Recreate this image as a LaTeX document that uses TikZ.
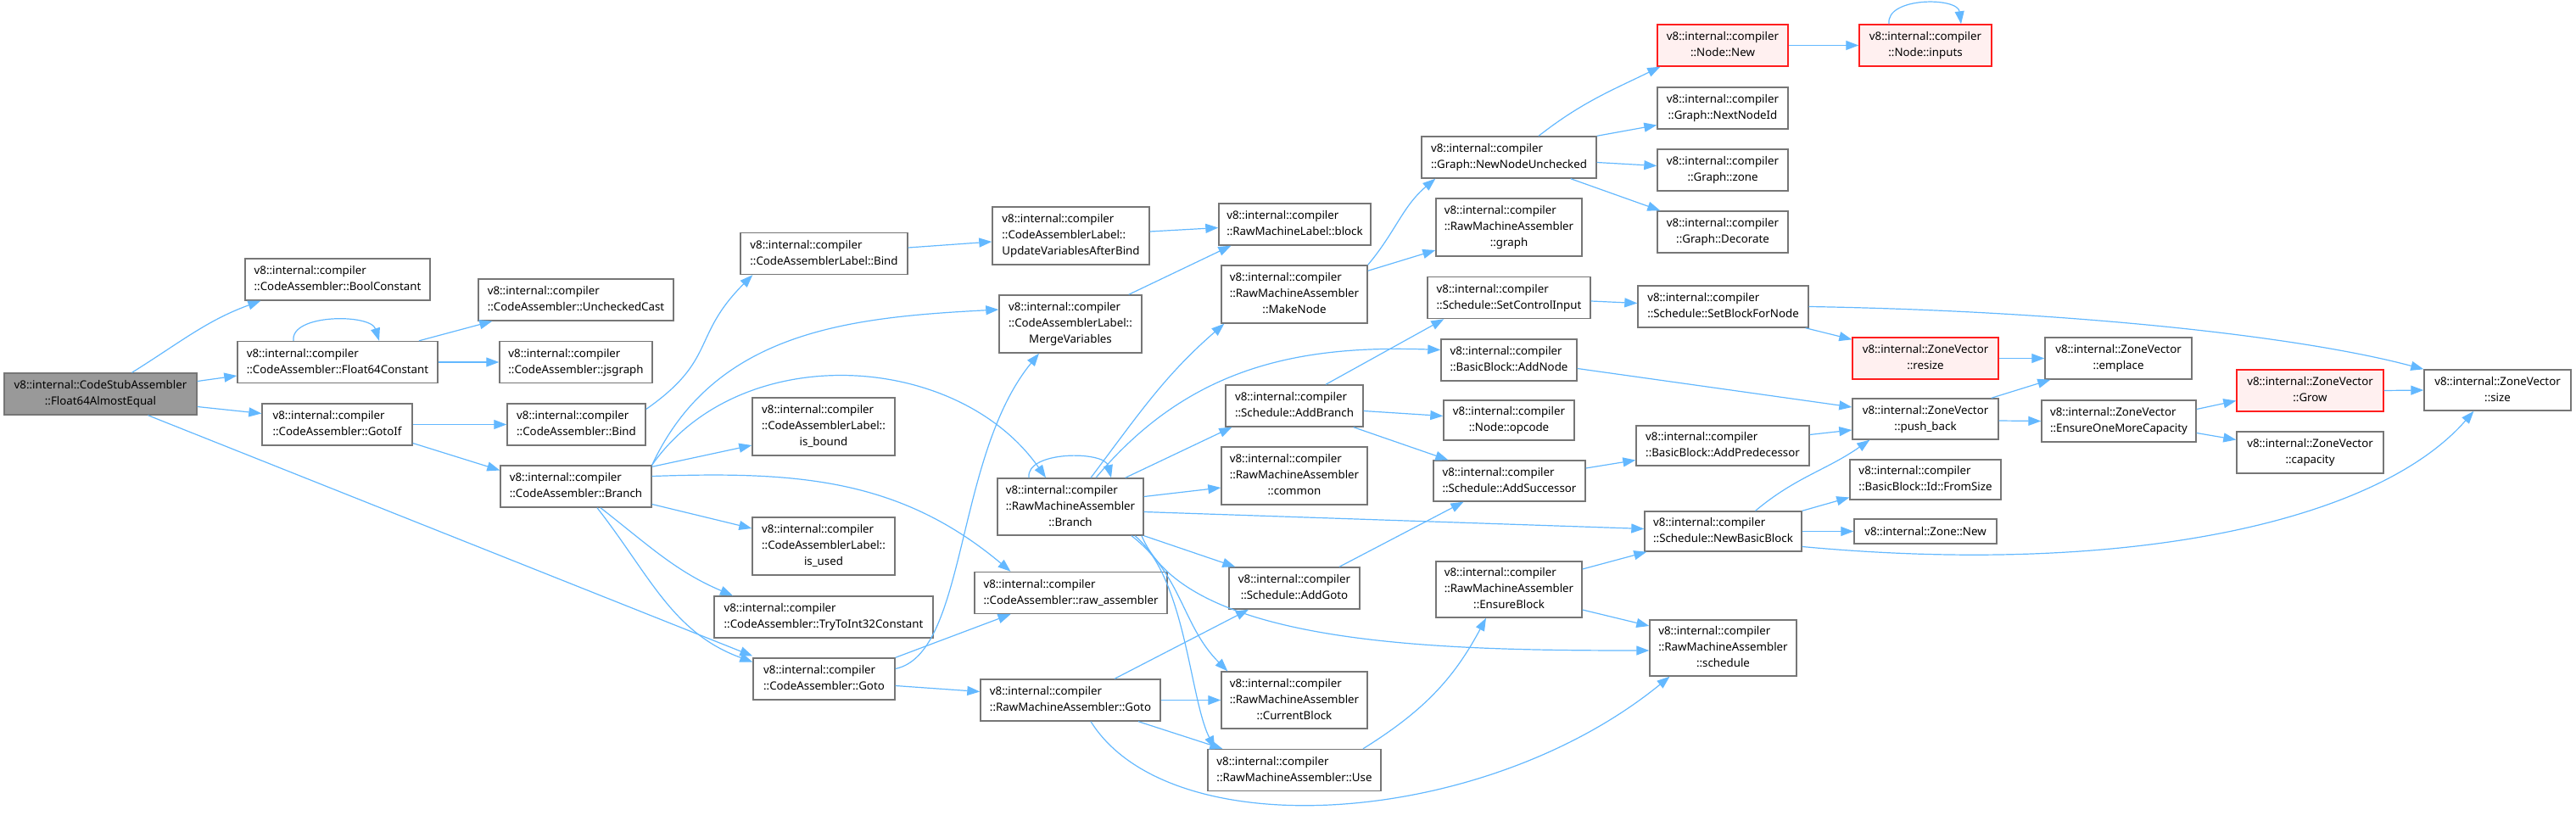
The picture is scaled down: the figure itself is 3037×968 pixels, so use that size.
\documentclass[tikz,border=0pt]{standalone}
\usepackage{fontspec}
\setmainfont{Noto Sans}
\usepackage{xcolor}
\usetikzlibrary{arrows.meta}
\definecolor{edgeblue}{RGB}{99,184,255}
\definecolor{boxgray}{RGB}{118,118,118}
\definecolor{rootgray}{RGB}{153,153,153}
\definecolor{cutred}{RGB}{255,30,30}
\definecolor{cutfill}{RGB}{255,240,240}
\newcommand{\fnfont}{\fontsize{13.3}{19}\selectfont}
\newcommand{\fnlabel}[2]{\begin{tabular}{@{}l@{}}#1\\\multicolumn{1}{@{}c@{}}{#2}\end{tabular}}
\tikzset{
  callbox/.style={rectangle, draw=boxgray, fill=white, line width=1.4pt, inner sep=0pt, minimum height=49pt, font=\fnfont},
  tallbox/.style={callbox, minimum height=68pt},
  rootbox/.style={callbox, fill=rootgray},
  cutbox/.style={callbox, draw=cutred, fill=cutfill},
  call/.style={->, draw=edgeblue, line width=1.2pt},
}

\begin{document}
\begin{tikzpicture}[x=1pt, y=1pt, >={Triangle[length=15pt,width=11pt]}]
\useasboundingbox (0,0) rectangle (3037,-968);
% Column 1-2
\node[rootbox, minimum width=227pt] (root) at (118.5,-464.5) {\fnlabel{v8::internal::CodeStubAssembler}{::Float64AlmostEqual}};
\node[callbox, minimum width=218pt] (boolc) at (398,-329.5) {\fnlabel{v8::internal::compiler}{::CodeAssembler::BoolConstant}};
\node[callbox, minimum width=236pt] (f64c) at (398,-427) {\fnlabel{v8::internal::compiler}{::CodeAssembler::Float64Constant}};
\node[callbox, minimum width=177pt] (gotoif) at (397.5,-500.5) {\fnlabel{v8::internal::compiler}{::CodeAssembler::GotoIf}};
% Column 3
\node[callbox, minimum width=230pt] (unchk) at (679,-353.5) {\fnlabel{v8::internal::compiler}{::CodeAssembler::UncheckedCast}};
\node[callbox, minimum width=180pt] (jsg) at (679,-427) {\fnlabel{v8::internal::compiler}{::CodeAssembler::jsgraph}};
\node[callbox, minimum width=163pt] (cabind) at (679.5,-500.5) {\fnlabel{v8::internal::compiler}{::CodeAssembler::Bind}};
\node[callbox, minimum width=178pt] (cabr) at (679,-573.5) {\fnlabel{v8::internal::compiler}{::CodeAssembler::Branch}};
% Column 4
\node[callbox, minimum width=197pt] (calbind) at (971.5,-299) {\fnlabel{v8::internal::compiler}{::CodeAssemblerLabel::Bind}};
\node[tallbox, minimum width=168pt] (isbound) at (971,-503) {\fnlabel{v8::internal::compiler\\::CodeAssemblerLabel::}{is\_bound}};
\node[tallbox, minimum width=168pt] (isused) at (971,-644) {\fnlabel{v8::internal::compiler\\::CodeAssemblerLabel::}{is\_used}};
\node[callbox, minimum width=258pt] (tryint) at (971,-727.5) {\fnlabel{v8::internal::compiler}{::CodeAssembler::TryToInt32Constant}};
\node[callbox, minimum width=167pt] (cagoto) at (971.5,-800.5) {\fnlabel{v8::internal::compiler}{::CodeAssembler::Goto}};
% Column 5
\node[tallbox, minimum width=185pt] (updvar) at (1262.5,-278) {\fnlabel{v8::internal::compiler\\::CodeAssemblerLabel::}{UpdateVariablesAfterBind}};
\node[tallbox, minimum width=168pt] (merge) at (1262,-382) {\fnlabel{v8::internal::compiler\\::CodeAssemblerLabel::}{MergeVariables}};
\node[tallbox, minimum width=172pt, minimum height=67pt] (rmbr) at (1262,-597.5) {\fnlabel{v8::internal::compiler\\::RawMachineAssembler}{::Branch}};
\node[callbox, minimum width=227pt] (rawasm) at (1262.5,-699) {\fnlabel{v8::internal::compiler}{::CodeAssembler::raw\_assembler}};
\node[callbox, minimum width=212pt] (rmgoto) at (1262,-825.5) {\fnlabel{v8::internal::compiler}{::RawMachineAssembler::Goto}};
% Column 6
\node[callbox, minimum width=179pt] (block) at (1526.5,-264.5) {\fnlabel{v8::internal::compiler}{::RawMachineLabel::block}};
\node[tallbox, minimum width=172pt] (mknode) at (1526,-347) {\fnlabel{v8::internal::compiler\\::RawMachineAssembler}{::MakeNode}};
\node[callbox, minimum width=162pt] (addbr) at (1526,-478.5) {\fnlabel{v8::internal::compiler}{::Schedule::AddBranch}};
\node[tallbox, minimum width=172pt] (common) at (1526,-561) {\fnlabel{v8::internal::compiler\\::RawMachineAssembler}{::common}};
\node[callbox, minimum width=154pt] (addgoto) at (1526,-693.5) {\fnlabel{v8::internal::compiler}{::Schedule::AddGoto}};
\node[tallbox, minimum width=172pt, minimum height=67pt] (curblk) at (1526,-825.5) {\fnlabel{v8::internal::compiler\\::RawMachineAssembler}{::CurrentBlock}};
\node[callbox, minimum width=204pt] (use) at (1526,-908) {\fnlabel{v8::internal::compiler}{::RawMachineAssembler::Use}};
% Column 7
\node[callbox, minimum width=206pt] (nnu) at (1779,-185.5) {\fnlabel{v8::internal::compiler}{::Graph::NewNodeUnchecked}};
\node[tallbox, minimum width=172pt] (rmgraph) at (1779,-268) {\fnlabel{v8::internal::compiler\\::RawMachineAssembler}{::graph}};
\node[callbox, minimum width=192pt] (setctl) at (1779,-351) {\fnlabel{v8::internal::compiler}{::Schedule::SetControlInput}};
\node[callbox, minimum width=160pt] (addnode) at (1779,-424.5) {\fnlabel{v8::internal::compiler}{::BasicBlock::AddNode}};
\node[callbox, minimum width=154pt, minimum height=47pt] (opcode) at (1779,-495.5) {\fnlabel{v8::internal::compiler}{::Node::opcode}};
\node[callbox, minimum width=179pt, minimum height=48pt] (addsucc) at (1779.5,-567) {\fnlabel{v8::internal::compiler}{::Schedule::AddSuccessor}};
\node[tallbox, minimum width=172pt, minimum height=66pt] (ensblk) at (1779,-695) {\fnlabel{v8::internal::compiler\\::RawMachineAssembler}{::EnsureBlock}};
% Column 8
\node[cutbox, minimum width=154pt] (nodenew) at (2031,-53.5) {\fnlabel{v8::internal::compiler}{::Node::New}};
\node[callbox, minimum width=154pt] (nextid) at (2031,-127.5) {\fnlabel{v8::internal::compiler}{::Graph::NextNodeId}};
\node[callbox, minimum width=154pt] (gzone) at (2031,-200.5) {\fnlabel{v8::internal::compiler}{::Graph::zone}};
\node[callbox, minimum width=154pt] (decorate) at (2031,-273.5) {\fnlabel{v8::internal::compiler}{::Graph::Decorate}};
\node[callbox, minimum width=201pt] (setblk) at (2031.5,-361.5) {\fnlabel{v8::internal::compiler}{::Schedule::SetBlockForNode}};
\node[callbox, minimum width=204pt, minimum height=47pt] (addpred) at (2031,-525.5) {\fnlabel{v8::internal::compiler}{::BasicBlock::AddPredecessor}};
\node[callbox, minimum width=185pt, minimum height=47pt] (newbb) at (2031.5,-626.5) {\fnlabel{v8::internal::compiler}{::Schedule::NewBasicBlock}};
\node[tallbox, minimum width=173pt, minimum height=66pt] (sched) at (2031.5,-764) {\fnlabel{v8::internal::compiler\\::RawMachineAssembler}{::schedule}};
% Column 9
\node[cutbox, minimum width=156pt] (inputs) at (2270,-53.5) {\fnlabel{v8::internal::compiler}{::Node::inputs}};
\node[cutbox, minimum width=172pt] (resize) at (2270,-422.5) {\fnlabel{v8::internal::ZoneVector}{::resize}};
\node[callbox, minimum width=172pt, minimum height=48pt] (pushb) at (2270,-494) {\fnlabel{v8::internal::ZoneVector}{::push\_back}};
\node[callbox, minimum width=178pt, minimum height=47pt] (fromsz) at (2270,-565.5) {\fnlabel{v8::internal::compiler}{::BasicBlock::Id::FromSize}};
\node[callbox, minimum width=168pt, minimum height=29pt] (zonenew) at (2270,-626.5) {v8::internal::Zone::New};
% Column 10-12
\node[callbox, minimum width=173pt] (emplace) at (2497.5,-422.5) {\fnlabel{v8::internal::ZoneVector}{::emplace}};
\node[callbox, minimum width=182pt] (ensone) at (2498,-496.5) {\fnlabel{v8::internal::ZoneVector}{::EnsureOneMoreCapacity}};
\node[cutbox, minimum width=173pt] (grow) at (2723.5,-460.5) {\fnlabel{v8::internal::ZoneVector}{::Grow}};
\node[callbox, minimum width=173pt] (capac) at (2723.5,-533.5) {\fnlabel{v8::internal::ZoneVector}{::capacity}};
\node[callbox, minimum width=173pt, minimum height=48pt] (size) at (2944.5,-460) {\fnlabel{v8::internal::ZoneVector}{::size}};

% Float64AlmostEqual
\draw[call] ([xshift=37]root.north) to[out=32,in=200] ([xshift=19]boolc.south west);
\draw[call] ([yshift=15]root.east) -- ([yshift=-16]f64c.west);
\draw[call] ([yshift=-15]root.east) -- ([yshift=13]gotoif.west);
\draw[call] ([xshift=56]root.south) -- ([yshift=27]cagoto.west);
% Float64Constant, GotoIf, Bind
\draw[call] ([xshift=-52]f64c.north) .. controls +(-4,32) and +(-10,32) .. ([xshift=49]f64c.north);
\draw[call] ([xshift=96]f64c.north) -- ([xshift=17]unchk.south west);
\draw[call] (f64c.east) -- (jsg.west);
\draw[call] (gotoif.east) -- (cabind.west);
\draw[call] ([yshift=-22]gotoif.east) -- ([yshift=19]cabr.west);
\draw[call] ([yshift=18]cabind.east) to[out=35,in=225,looseness=1.3] ([xshift=15]calbind.south west);
\draw[call] ([yshift=7]calbind.east) -- ([yshift=-7]updvar.west);
\draw[call] ([yshift=5]updvar.east) -- ([yshift=-4]block.west);
\draw[call] ([xshift=-16]merge.north east) -- ([xshift=15]block.south west);
% CodeAssembler::Branch
\draw[call] (cabr.north east) to[out=65,in=183] ([yshift=17]merge.west);
\draw[call] (cabr.north east) to[out=55,in=125] ([xshift=-29]rmbr.north);
\draw[call] ([yshift=-2]cabr.north east) -- ([yshift=-22]isbound.west);
\draw[call] ([yshift=12]cabr.east) to[out=2,in=140] ([xshift=-71]rawasm.north);
\draw[call] ([yshift=-21]cabr.east) -- ([yshift=21]isused.west);
\draw[call] ([xshift=29]cabr.south) to[out=-38,in=157] ([xshift=-107]tryint.north);
\draw[call] ([xshift=25]cabr.south) to[out=-52,in=160] ([yshift=20]cagoto.west);
% CodeAssembler::Goto
\draw[call] ([yshift=12]cagoto.east) .. controls +(85,18) and +(-100,-122) .. ([xshift=-37]merge.south);
\draw[call] (cagoto.north east) -- ([xshift=-71]rawasm.south);
\draw[call] ([yshift=-8]cagoto.east) -- ([yshift=10]rmgoto.west);
% RawMachineAssembler::Branch
\draw[call] ([xshift=-49]rmbr.north) .. controls +(-4,32) and +(-8,32) .. ([xshift=48]rmbr.north);
\draw[call] ([xshift=24]rmbr.north) to[out=53,in=-139] ([xshift=4]mknode.south west);
\draw[call] ([xshift=30]rmbr.north) to[out=50,in=178] ([yshift=12]addnode.west);
\draw[call] ([xshift=-22]rmbr.north east) -- ([xshift=8]addbr.south west);
\draw[call] ([yshift=12]rmbr.east) -- ([yshift=-14]common.west);
\draw[call] ([yshift=-6]rmbr.east) -- ([yshift=3]newbb.west);
\draw[call] (rmbr.south east) -- ([xshift=8]addgoto.north west);
\draw[call] ([xshift=72]rmbr.south) to[out=-38,in=135] ([xshift=8]curblk.north west);
\draw[call] ([xshift=76]rmbr.south) .. controls +(60,-50) and +(-30,60) .. ([xshift=9]use.north west);
\draw[call] ([xshift=84]rmbr.south) .. controls +(54,-129) and +(-250,0) .. ([yshift=-3]sched.west);
% RawMachineAssembler::Goto
\draw[call] ([xshift=52]rmgoto.north) -- ([xshift=-54]addgoto.south);
\draw[call] (rmgoto.east) -- (curblk.west);
\draw[call] ([xshift=80]rmgoto.south) -- ([xshift=18]use.north west);
\draw[call] ([xshift=24]rmgoto.south) .. controls +(94,-150) and +(-218,-178) .. ([xshift=-63]sched.south);
% MakeNode, NewNodeUnchecked
\draw[call] (mknode.north east) to[out=50,in=-140] ([xshift=17]nnu.south west);
\draw[call] ([yshift=-7]mknode.north east) -- ([yshift=-27]rmgraph.west);
\draw[call] ([xshift=35]nnu.north) to[out=38,in=-154] ([xshift=4]nodenew.south west);
\draw[call] (nnu.north east) -- ([yshift=-20]nextid.west);
\draw[call] ([yshift=-6]nnu.east) -- ([yshift=5]gzone.west);
\draw[call] ([xshift=-31]nnu.south east) -- ([xshift=4]decorate.north west);
\draw[call] (nodenew.east) -- (inputs.west);
\draw[call] ([xshift=-43]inputs.north) .. controls +(-4,32) and +(-4,32) .. ([xshift=42]inputs.north);
% Schedule
\draw[call] ([xshift=37]addbr.north) -- ([xshift=20]setctl.south west);
\draw[call] ([yshift=-6]addbr.east) -- ([yshift=5]opcode.west);
\draw[call] ([xshift=-12]addbr.south east) -- ([xshift=18]addsucc.north west);
\draw[call] ([xshift=53]addgoto.north) -- ([xshift=-54]addsucc.south);
\draw[call] ([yshift=-4]setctl.east) -- ([yshift=4]setblk.west);
\draw[call] ([xshift=-4]setblk.south east) -- ([yshift=-3]resize.north west);
\draw[call] (setblk.east) .. controls +(300,-5) and +(-150,40) .. (size.north west);
\draw[call] ([yshift=-10]addnode.east) -- ([yshift=14]pushb.west);
\draw[call] ([yshift=15]addsucc.east) -- ([yshift=-17]addpred.west);
\draw[call] ([yshift=13]addpred.east) -- ([yshift=-13]pushb.west);
\draw[call] ([xshift=38]newbb.north) to[out=40,in=-145] ([xshift=21]pushb.south west);
\draw[call] (newbb.north east) -- ([yshift=-21]fromsz.west);
\draw[call] (newbb.east) -- (zonenew.west);
\draw[call] ([yshift=-18]newbb.east) .. controls +(376,-35) and +(-116,-133) .. ([xshift=-28]size.south);
\draw[call] ([yshift=24]ensblk.east) -- ([xshift=3]newbb.south west);
\draw[call] ([yshift=-24]ensblk.east) -- ([yshift=26]sched.west);
\draw[call] ([xshift=81]use.north) to[out=32,in=-118] ([xshift=-27]ensblk.south);
% ZoneVector
\draw[call] (resize.east) -- (emplace.west);
\draw[call] ([xshift=-9]pushb.north east) -- ([xshift=7]emplace.south west);
\draw[call] ([yshift=-2]pushb.east) -- (ensone.west);
\draw[call] ([yshift=14]ensone.east) -- ([yshift=-12]grow.west);
\draw[call] ([yshift=-14]ensone.east) -- ([yshift=15]capac.west);
\draw[call] (grow.east) -- (size.west);
\end{tikzpicture}
\end{document}
